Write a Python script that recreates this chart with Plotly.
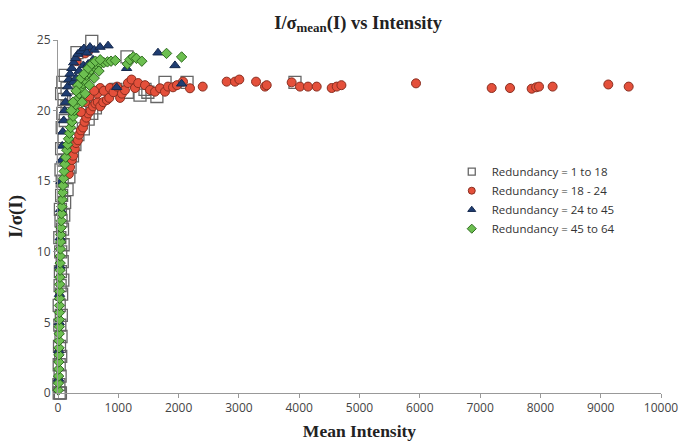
import plotly.graph_objects as go

# ---------------- data ----------------
sq_x = [20, 40, 15, 35, 20, 45, 25, 50, 30, 55, 20, 60, 35, 80, 40, 70, 45, 85, 30, 75,
        50, 95, 40, 110, 60, 150, 70, 180, 50, 200, 90, 240, 60, 280, 100, 330, 70, 420,
        120, 500, 80, 560, 150, 620, 100, 680, 60, 150, 80, 120,
        315, 560, 1144, 960, 1443, 1490, 1640, 1775, 2140, 3930, 1360, 1150]
sq_y = [0.0, 0.0, 0.6, 1.2, 2.0, 2.6, 3.3, 4.0, 4.8, 5.5, 6.2, 7.0, 7.6, 8.0, 8.6, 9.3,
        10.0, 10.5, 11.0, 11.6, 12.2, 12.6, 13.0, 13.5, 14.0, 14.4, 15.0, 15.3, 15.8, 16.0,
        16.5, 16.8, 17.3, 17.6, 18.0, 18.3, 18.8, 18.7, 19.3, 19.4, 19.8, 19.8, 20.3, 20.2,
        20.8, 20.7, 21.2, 21.6, 22.0, 22.5,
        24.1, 24.9, 23.8, 21.5, 21.5, 21.3, 21.0, 22.0, 22.0, 22.0, 21.1, 21.3]

red_x = [180, 200, 230, 250, 280, 300, 330, 350, 380, 415, 440, 470, 500, 540, 580, 620,
         660, 700, 750, 810, 850, 650, 700, 760, 860, 920, 980, 1030, 1060, 1110, 1160,
         1220, 1277, 1330, 1443, 1526, 1609, 1692, 1774, 1824, 1907, 1973, 2073, 2189,
         2400, 2797, 2935, 3007, 3284, 3433, 3461, 3875, 4013, 4146, 4290, 4539, 4622,
         4700, 5937, 7192, 7496, 7855, 7930, 7977, 8203, 9126, 9464,
         310, 448, 500, 380, 450, 520, 600]
red_y = [15.5, 16.0, 16.5, 16.8, 17.3, 17.7, 17.9, 18.3, 18.6, 18.8, 19.2, 19.5, 19.8,
         20.0, 20.3, 20.5, 20.6, 20.3, 20.6, 20.75, 20.9, 21.2, 21.6, 21.4, 21.6, 21.3,
         21.7, 20.9, 21.2, 21.45, 21.95, 22.2, 21.6, 21.95, 21.8, 21.46, 21.34, 21.58,
         21.34, 21.7, 21.65, 21.8, 22.05, 21.58, 21.7, 22.05, 22.05, 22.2, 22.05, 21.7,
         21.8, 22.0, 21.7, 21.7, 21.7, 21.6, 21.7, 21.8, 21.93, 21.6, 21.6, 21.55, 21.65,
         21.7, 21.7, 21.85, 21.7,
         23.5, 24.05, 24.2, 19.9, 20.6, 21.0, 21.4]

blue_x = [10, 15, 20, 25, 30, 35, 40, 50, 60, 70, 80, 95, 110, 125, 140, 160, 180, 200,
          230, 260, 290, 330, 380, 430, 480, 530, 600, 697, 830, 350, 420, 500, 580, 640,
          250, 300, 1138, 1658, 1940, 2050, 973]
blue_y = [1.0, 3.0, 5.0, 7.0, 9.0, 11.0, 13.0, 15.0, 16.5, 17.5, 18.5, 19.3, 20.0, 20.6,
          21.2, 21.7, 22.2, 22.6, 23.0, 23.4, 23.7, 24.0, 24.2, 24.4, 24.1, 24.5, 24.3,
          24.5, 24.6, 22.8, 23.2, 23.3, 23.6, 23.3, 22.0, 22.3, 23.0, 24.1, 23.2, 21.9, 21.65]

green_x = [5, 8, 10, 12, 14, 15, 17, 18, 20, 21, 22, 24, 25, 27, 28, 30, 32, 34, 36, 38,
           40, 43, 46, 50, 54, 58, 63, 68, 75, 82, 92, 102, 115, 128, 145, 160, 175, 190,
           210, 230, 250, 270, 290, 320, 350, 380, 410, 440, 470, 510, 550, 600, 650, 700,
           760, 820, 880, 950, 330, 380, 430, 500, 560, 620, 700, 250, 220, 300, 400, 450,
           520, 600, 680, 1150, 1190, 1250, 1300, 1390, 1800, 2050]
green_y = [0.2, 0.7, 1.2, 1.7, 2.2, 2.7, 3.2, 3.7, 4.2, 4.7, 5.2, 5.7, 6.2, 6.7, 7.2, 7.7,
           8.2, 8.7, 9.2, 9.7, 10.2, 10.7, 11.2, 11.7, 12.2, 12.7, 13.2, 13.7, 14.2, 14.7,
           15.2, 15.7, 16.2, 16.7, 17.2, 17.6, 18.0, 18.4, 18.8, 19.2, 19.6, 20.0, 20.4,
           20.8, 21.2, 21.6, 21.9, 22.2, 22.5, 22.7, 22.9, 23.1, 23.2, 23.3, 23.4, 23.45,
           23.5, 23.55, 21.8, 22.3, 22.6, 23.0, 23.3, 23.5, 23.6, 20.6, 20.0, 21.4, 20.6,
           21.2, 21.8, 22.3, 22.8, 23.3, 23.6, 23.8, 23.7, 23.5, 24.05, 23.8]

series_names = ["Redundancy = 1 to 18", "Redundancy = 18 - 24",
                "Redundancy = 24 to 45", "Redundancy = 45 to 64"]
x_ticks = [0, 1000, 2000, 3000, 4000, 5000, 6000, 7000, 8000, 9000, 10000]
x_tick_labels = ["0", "1000", "2000", "3000", "4000", "5000", "6000", "7000", "8000",
                 "9000", "10000"]
y_ticks = [0, 5, 10, 15, 20, 25]
y_tick_labels = ["0", "5", "10", "15", "20", "25"]

# ---------------- styles ----------------
styles = [
    dict(symbol="square-open", color="#666666", line=dict(width=1.3, color="#666666")),
    dict(symbol="circle", color="#e4503b", line=dict(width=1, color="#8a2e20")),
    dict(symbol="triangle-up", color="#1f3d72", line=dict(width=1, color="#15294d")),
    dict(symbol="diamond", color="#6cbf50", line=dict(width=1, color="#2e6b1f")),
]
sizes = [12, 9, 9, 8]
datasets = [(sq_x, sq_y), (red_x, red_y), (blue_x, blue_y), (green_x, green_y)]

fig = go.Figure()
for (xs, ys), st, sz, nm in zip(datasets, styles, sizes, series_names):
    fig.add_trace(go.Scatter(x=xs, y=ys, mode="markers", name=nm, showlegend=False,
                             cliponaxis=False, marker=dict(size=sz, **st)))
# small legend swatches
for st, nm in zip(styles, series_names):
    fig.add_trace(go.Scatter(x=[None], y=[None], mode="markers", name=nm,
                             marker=dict(size=7, **st)))

axis_common = dict(showgrid=False, zeroline=False, showline=True, linecolor="#999999",
                   linewidth=1, ticks="outside", ticklen=4, tickcolor="#999999",
                   automargin=False,
                   tickfont=dict(family="Open Sans", size=12, color="#444444"))

fig.update_layout(
    width=682, height=441,
    margin=dict(l=58, r=21, t=40, b=48),
    paper_bgcolor="white", plot_bgcolor="white",
    title=dict(text="<b>I/σ<sub>mean</sub>(I) vs Intensity</b>",
               font=dict(family="Liberation Serif", size=18.5, color="#222222"),
               x=0.525, xanchor="center", y=0.95, yanchor="middle"),
    xaxis=dict(range=[0, 10000], tickvals=x_ticks, ticktext=x_tick_labels,
               title=dict(text="<b>Mean Intensity</b>", standoff=10,
                          font=dict(family="Liberation Serif", size=17.5, color="#222222")),
               **axis_common),
    yaxis=dict(range=[0, 25], tickvals=y_ticks, ticktext=y_tick_labels,
               title=dict(text="<b>I/σ(I)</b>", standoff=9,
                          font=dict(family="Liberation Serif", size=19, color="#222222")),
               **axis_common),
    legend=dict(x=0.653, y=0.668, xanchor="left", yanchor="top",
                font=dict(family="Open Sans", size=11.5, color="#333333"),
                bgcolor="rgba(255,255,255,0)", tracegroupgap=0, itemwidth=30),
    showlegend=True,
)

fig.write_html("out.html", config={"displayModeBar": False},
               post_script="document.body.style.margin='0';document.body.style.padding='0';")
